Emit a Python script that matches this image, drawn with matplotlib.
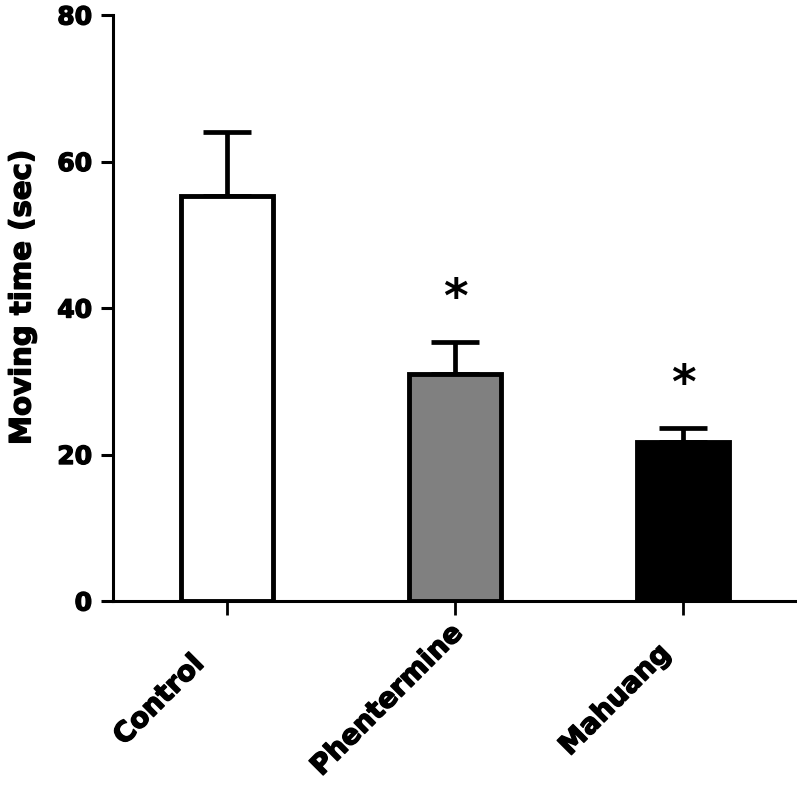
import matplotlib
matplotlib.use("Agg")
import matplotlib.pyplot as plt
import matplotlib.transforms as mtransforms
import matplotlib.patheffects as pe
import numpy as np

categories = ["Control", "Phentermine", "Mahuang"]
means = [55.3, 31.0, 21.7]
errors = [8.7, 4.4, 1.9]
colors = ["white", "#808080", "black"]
stars = ["", "*", "*"]
yticks = [0, 20, 40, 60, 80]

plt.rcParams['font.family'] = ['DejaVu Sans']

fig = plt.figure(figsize=(7.97, 7.94), dpi=100)
ax = fig.add_axes([113/797, 1 - 601/794, (797 - 113)/797, (601 - 15)/794])

bold = [pe.withStroke(linewidth=1.0, foreground="black")]

x = np.arange(len(categories))
ax.bar(x, means, width=0.40, color=colors, edgecolor="black", linewidth=3.5, zorder=2)
ax.errorbar(x, means, yerr=[np.zeros(len(errors)), errors], fmt="none",
            ecolor="black", elinewidth=3.4, capsize=17, capthick=3.4, zorder=1)

for xi, m, e, s in zip(x, means, errors, stars):
    if s:
        ax.text(xi, m + e + 5.8, s, ha="center", va="center", fontsize=34,
                fontweight="bold")

ax.set_xlim(-0.5, 2.5)
ax.set_ylim(0, 80)
ax.set_yticks(yticks)
ax.set_yticklabels([str(t) for t in yticks], fontsize=18, fontweight="bold",
                   path_effects=bold)
ax.set_xticks(x)
ax.set_xticklabels(categories, rotation=45, ha="center", va="center",
                   rotation_mode="anchor", fontsize=20, fontweight="bold",
                   path_effects=bold)
ax.tick_params(axis="x", length=10, width=2, pad=0)
ax.tick_params(axis="y", length=9, width=2.2, pad=6)

offset = mtransforms.ScaledTranslation(-0.68, -0.85, fig.dpi_scale_trans)
for lab in ax.get_xticklabels():
    lab.set_transform(lab.get_transform() + offset)

ax.set_ylabel("Moving time (sec)", fontsize=21, fontweight="bold",
              path_effects=bold)
ax.yaxis.set_label_coords(-0.112, 0.518)

for side in ["top", "right"]:
    ax.spines[side].set_visible(False)
for side in ["left", "bottom"]:
    ax.spines[side].set_linewidth(2.2)

fig.savefig("out.png", dpi=100)
